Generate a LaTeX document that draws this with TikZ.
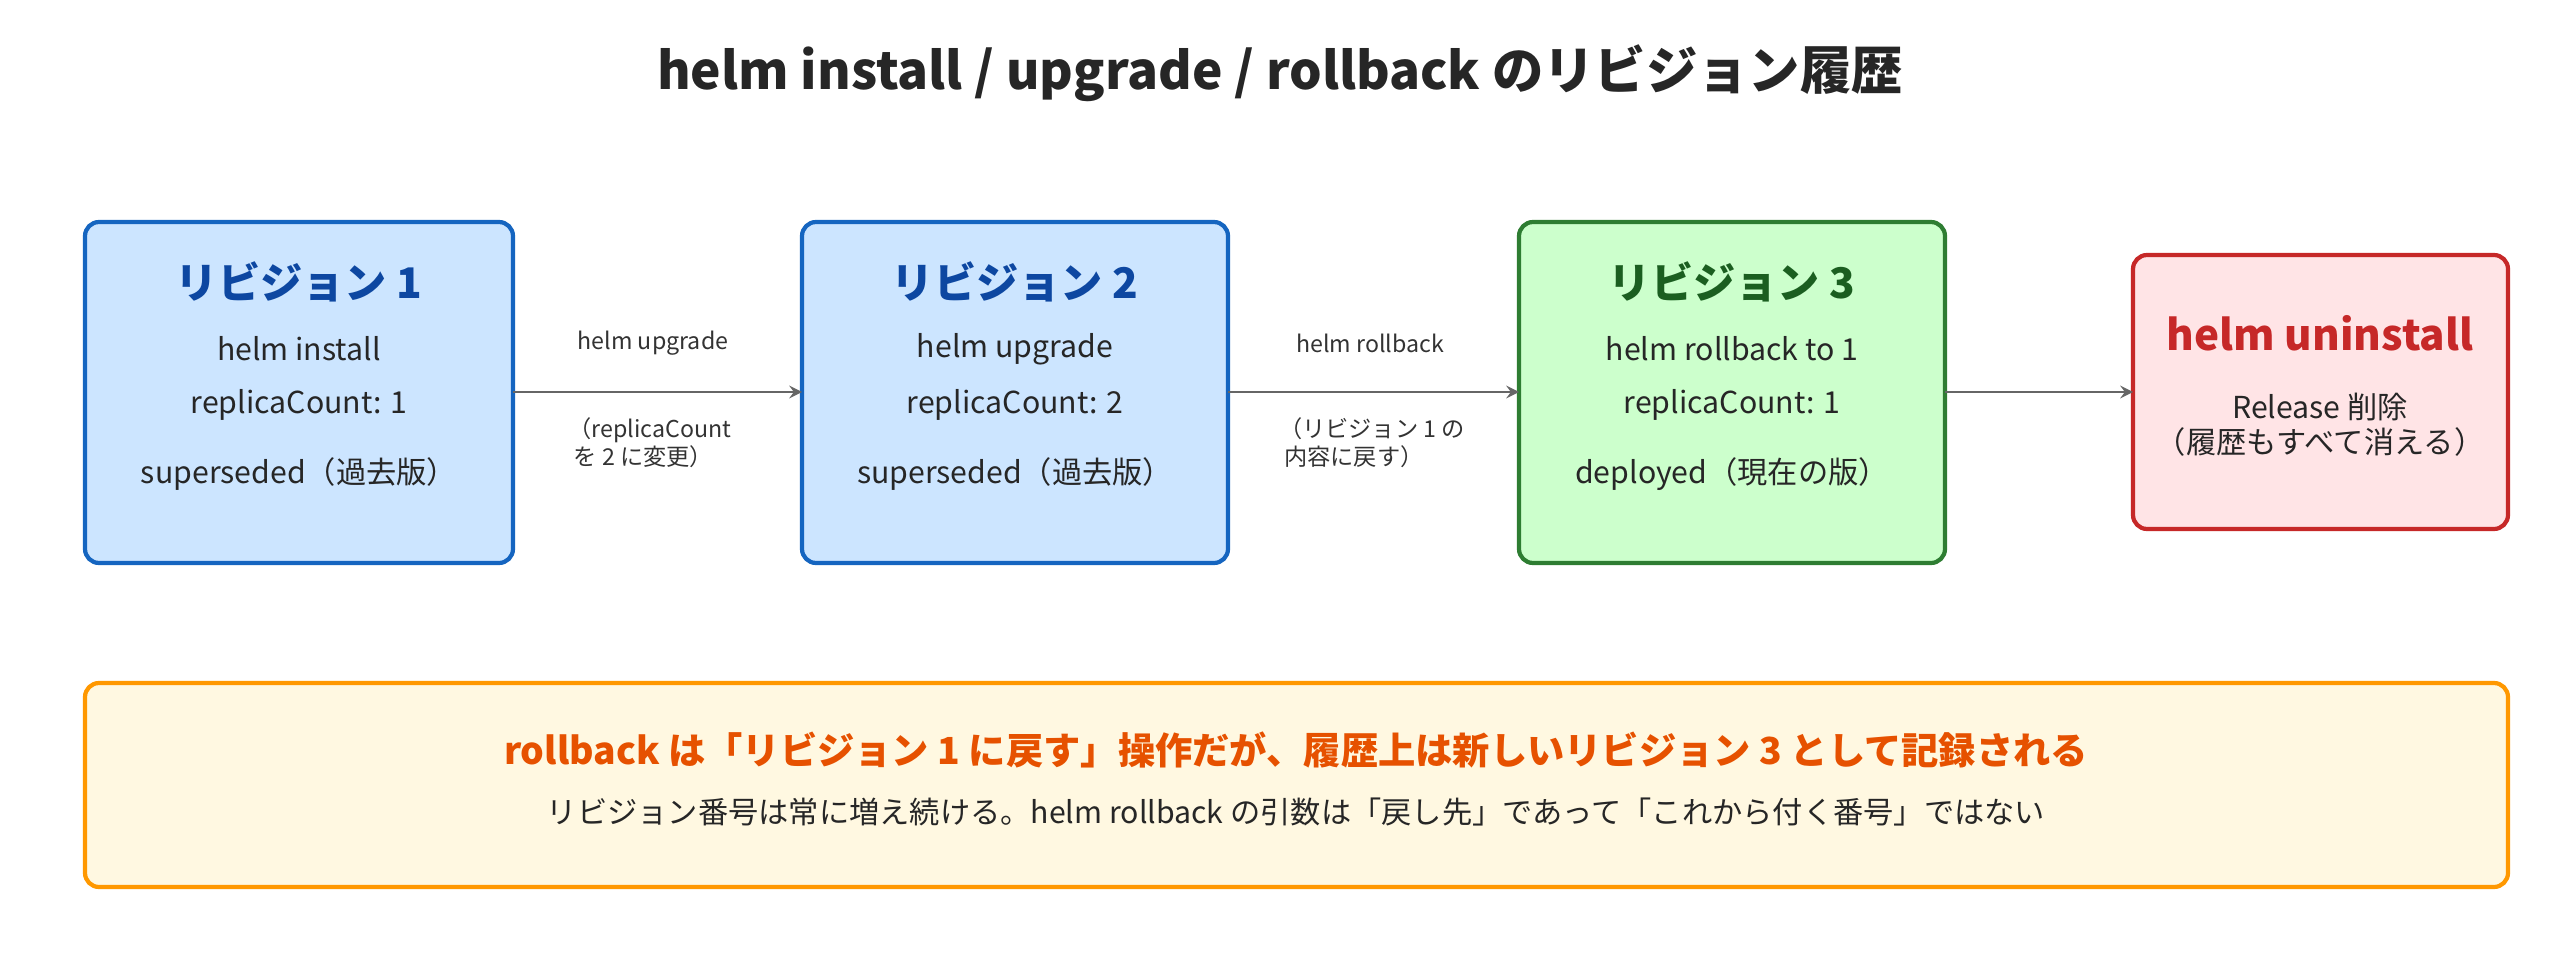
\documentclass[tikz,border=0pt]{standalone}
\usepackage{fontspec}
\setmainfont{Noto Sans CJK JP}
\begin{document}
\begin{tikzpicture}[x=0.01cm,y=-0.01cm,
 box/.style={draw,line width=1.2pt,rounded corners=4pt},
 lbl/.style={font=\fontsize{6.6}{8}\selectfont,align=center,text=black!80},
 body/.style={font=\fontsize{8.6}{10}\selectfont,text=black!85},
 head/.style={font=\fontsize{12}{14}\bfseries\selectfont},
 arr/.style={->,>=stealth,draw=black!60,line width=0.6pt}]
\definecolor{bf}{HTML}{CCE5FF}\definecolor{bd}{HTML}{1565C0}\definecolor{bt}{HTML}{0D47A1}
\definecolor{gf}{HTML}{CCFFCC}\definecolor{gd}{HTML}{2E7D32}\definecolor{gt}{HTML}{1B5E20}
\definecolor{rf}{HTML}{FFE4E6}\definecolor{rd}{HTML}{C62828}
\definecolor{of}{HTML}{FFF8E1}\definecolor{od}{HTML}{FF9800}\definecolor{ot}{HTML}{E65100}
\useasboundingbox (0,0) rectangle (2560,973);
\node[font=\fontsize{14.6}{16}\bfseries\selectfont,text=black!85] (title) at (1280,73) {helm install / upgrade / rollback のリビジョン履歴};
\draw[box,draw=bd,fill=bf] (85,222) rectangle (513,563);
\node[head,text=bt] (h1) at (299,282) {リビジョン 1};
\node[body] (t1a) at (299,349) {helm install};
\node[body] (t1b) at (299,405) {replicaCount: 1};
\node[body] (t1c) at (299,474) {superseded（過去版）};
\draw[box,draw=bd,fill=bf] (802,222) rectangle (1228,563);
\node[head,text=bt] (h2) at (1015,282) {リビジョン 2};
\node[body] (t2a) at (1015,349) {helm upgrade};
\node[body] (t2b) at (1015,405) {replicaCount: 2};
\node[body] (t2c) at (1015,474) {superseded（過去版）};
\draw[box,draw=gd,fill=gf] (1519,222) rectangle (1945,563);
\node[head,text=gt] (h3) at (1732,282) {リビジョン 3};
\node[body] (t3a) at (1732,349) {helm rollback to 1};
\node[body] (t3b) at (1732,405) {replicaCount: 1};
\node[body] (t3c) at (1732,474) {deployed（現在の版）};
\draw[box,draw=rd,fill=rf] (2133,255) rectangle (2508,529);
\node[head,text=rd] (h4) at (2320,333) {helm uninstall};
\node[body,align=center] (t4) at (2320,425) {Release 削除\\（履歴もすべて消える）};
\coordinate (a1s) at (513,392); \coordinate (a1e) at (802,392);
\coordinate (a2s) at (1228,392); \coordinate (a2e) at (1519,392);
\coordinate (a3s) at (1945,392); \coordinate (a3e) at (2133,392);
\draw[arr] (a1s) -- (a1e); \draw[arr] (a2s) -- (a2e); \draw[arr] (a3s) -- (a3e);
\node[lbl] (l1) at (653,343) {helm upgrade};
\node[lbl,align=left] (l1b) at (650,443) {（replicaCount\\\ を 2 に変更）};
\node[lbl] (l2) at (1370,343) {helm rollback};
\node[lbl,align=left] (l2b) at (1372,443) {（リビジョン 1 の\\\ 内容に戻す）};
\draw[box,draw=od,fill=of] (85,683) rectangle (2508,887);
\node[font=\fontsize{10.6}{12}\bfseries\selectfont,text=ot] (n1) at (1296,750) {rollback は「リビジョン 1 に戻す」操作だが、履歴上は新しいリビジョン 3 として記録される};
\node[body] (n2) at (1296,812) {リビジョン番号は常に増え続ける。helm rollback の引数は「戻し先」であって「これから付く番号」ではない};
\end{tikzpicture}
\end{document}
